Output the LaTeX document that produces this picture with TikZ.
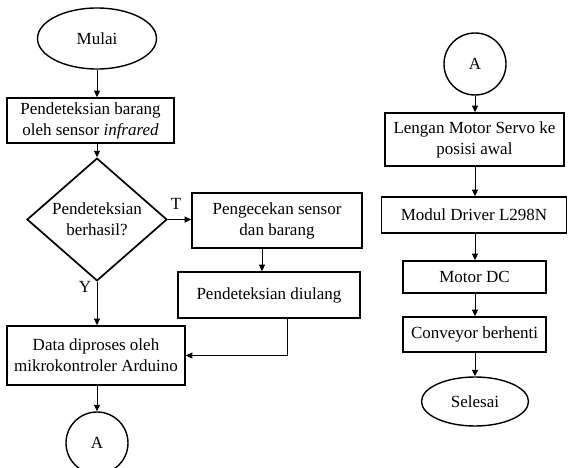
\documentclass[tikz,border=0pt]{standalone}
\usepackage{fontspec}
\setmainfont{Liberation Serif}
\usetikzlibrary{arrows.meta,shapes.geometric}
\begin{document}
\begin{tikzpicture}[x=1pt,y=-1pt,
  txt/.style={font=\fontsize{17}{21}\selectfont, align=center, inner sep=0pt},
  procbox/.style={txt, draw, line width=1.7pt, rectangle},
  term/.style={txt, draw, line width=1.4pt, ellipse},
  conn/.style={txt, draw, line width=1.4pt, circle, minimum size=62pt},
  decide/.style={txt, draw, line width=1.7pt, diamond},
  arr/.style={line width=1pt, -{Triangle[length=6.5pt,width=6pt]}},
  lbl/.style={font=\fontsize{17}{21}\selectfont, inner sep=0pt}]
\useasboundingbox (0,0) rectangle (568,468);

% left column
\node[term, minimum width=119pt, minimum height=61pt] (mulai) at (97,38.5) {Mulai};
\node[procbox, minimum width=167pt, minimum height=45pt] (deteksi) at (90.5,120.5) {Pendeteksian barang\\oleh sensor \textit{infrared}};
\node[decide, minimum width=140pt, minimum height=105pt] (cek) at (97,219.5) {Pendeteksian\\berhasil?};
\node[procbox, minimum width=170pt, minimum height=55pt] (periksa) at (277,220.5) {Pengecekan sensor\\dan barang};
\node[procbox, minimum width=182pt, minimum height=46pt] (ulang) at (269,295) {Pendeteksian diulang};
\node[procbox, minimum width=178pt, minimum height=59pt] (proses) at (96,355.5) {Data diproses oleh\\mikrokontroler Arduino};
\node[conn] (a1) at (97,443) {A};

\draw[arr] (mulai.south) -- (mulai.south |- deteksi.north);
\draw[arr] (deteksi.south -| mulai.south) -- (cek.north);
\draw[arr] (cek.east) -- (periksa.west |- cek.east);
\node[lbl] (tl) at (176,204) {T};
\draw[arr] ([xshift=-15pt]periksa.south) -- ([xshift=-15pt]periksa.south |- ulang.north);
\draw[arr] ([xshift=18pt]ulang.south) |- (proses.east);
\draw[arr] (cek.south) -- (cek.south |- proses.north);
\node[lbl] (yl) at (85,287) {Y};
\draw[arr] (proses.south -| a1.north) -- (a1.north);

% right column
\node[conn] (a2) at (475,64) {A};
\node[procbox, minimum width=179pt, minimum height=53pt] (servo) at (474.5,139.5) {Lengan Motor Servo ke\\posisi awal};
\node[procbox, minimum width=185pt, minimum height=36pt] (driver) at (474,215) {Modul Driver L298N};
\node[procbox, minimum width=143pt, minimum height=32pt] (motor) at (474.5,277) {Motor DC};
\node[procbox, minimum width=143pt, minimum height=35pt] (conv) at (474.5,334.5) {Conveyor berhenti};
\node[term, minimum width=107pt, minimum height=49pt] (selesai) at (475,401.5) {Selesai};

\draw[arr] (a2.south) -- (a2.south |- servo.north);
\draw[arr] (servo.south -| a2.south) -- (a2.south |- driver.north);
\draw[arr] (driver.south -| a2.south) -- (a2.south |- motor.north);
\draw[arr] (motor.south -| a2.south) -- (a2.south |- conv.north);
\draw[arr] (conv.south -| a2.south) -- (selesai.north);
\end{tikzpicture}
\end{document}
